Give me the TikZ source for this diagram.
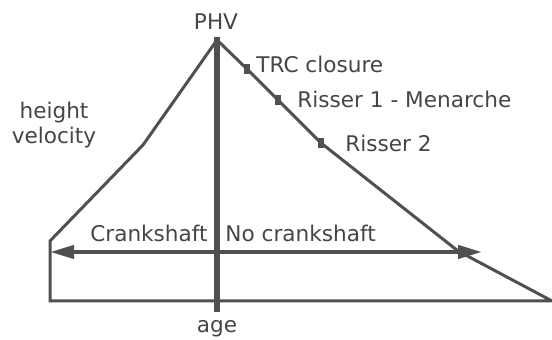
\documentclass[tikz,border=0pt]{standalone}
\usepackage{fontspec}
\setmainfont{DejaVu Sans}
\usetikzlibrary{arrows.meta}
\definecolor{CurveGray}{HTML}{505050}
\definecolor{TextGray}{HTML}{454545}
\tikzset{every node/.style={font=\fontsize{10.8}{12.5}\selectfont,text=TextGray,inner sep=0pt},
 curve/.style={draw=CurveGray,line width=1.5pt,line join=miter},
 axisline/.style={draw=CurveGray,line width=2.6pt},
 stagebox/.style={fill=CurveGray,minimum width=2.6pt,minimum height=4.6pt},
 span/.style={draw=CurveGray,line width=2pt,
 {Triangle[length=12pt,width=6.5pt]}-{Triangle[length=12pt,width=6.5pt]}}}
\begin{document}
\begin{tikzpicture}[x=0.5pt,y=-0.5pt]
\useasboundingbox (0,0) rectangle (552,340);
\coordinate (peak) at (217,40);\coordinate (kneeL) at (143,145);
\coordinate (footL) at (50,241);\coordinate (baseL) at (50,301);
\coordinate (baseR) at (552,301);\coordinate (kneeR) at (458,251);
\coordinate (spanL) at (50,252);\coordinate (spanR) at (482,252);
\coordinate (axisT) at (217,37);\coordinate (axisB) at (217,312);
\node[stagebox] (trc) at (247,69) {};
\node[stagebox] (ris1) at (278,100) {};
\node[stagebox] (ris2) at (321,143) {};
\draw[curve] (baseR)--(baseL)--(footL)--(kneeL)--(peak)--(trc.center)
 --(ris1.center)--(ris2.center)--(kneeR)--(baseR);
\draw[span] (spanL)--(spanR);
\draw[axisline] (axisT)--(axisB);
\node[anchor=base] (phv) at (216,30) {PHV};
\node[anchor=base west] (trclab) at (256,73) {TRC closure};
\node[anchor=base west] (ris1lab) at (297,108) {Risser 1 - Menarche};
\node[anchor=base west] (ris2lab) at (345,152) {Risser 2};
\node[align=center] (hv) at (54,125) {height\\velocity};
\node[anchor=base east] (crank) at (208,242) {Crankshaft};
\node[anchor=base west] (nocrank) at (225,242) {No crankshaft};
\node[anchor=base] (age) at (217,333) {age};
\end{tikzpicture}
\end{document}
